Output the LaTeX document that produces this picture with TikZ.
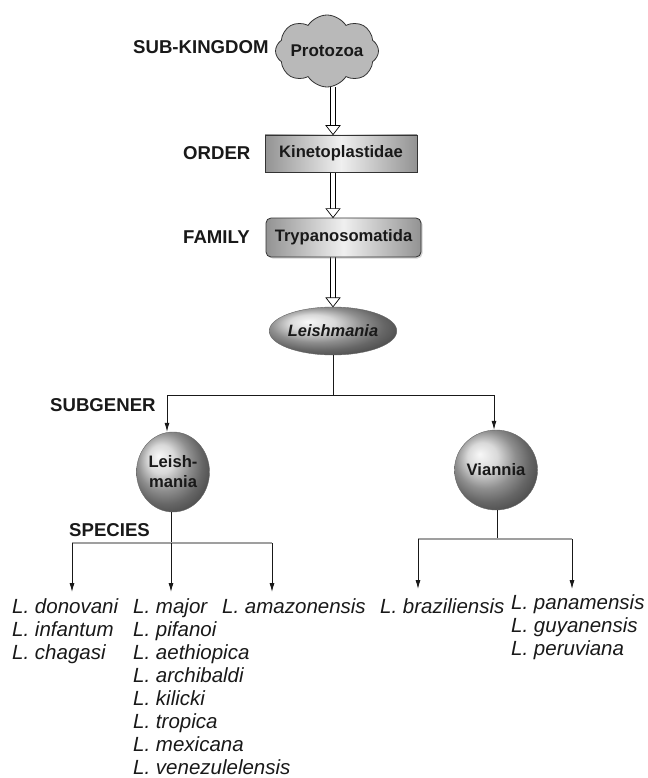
\documentclass[tikz,border=0pt]{standalone}
\usepackage{fontspec}
\setmainfont{Liberation Sans}
\usetikzlibrary{shapes.symbols,shapes.geometric,arrows.meta,calc,shadows,backgrounds}
\begin{document}
\begin{tikzpicture}[x=1pt,y=-1pt,
  lab/.style={font=\bfseries\fontsize{18.6}{22}\selectfont, inner sep=0pt, anchor=west, text=black!90},
  sp/.style={font=\itshape\fontsize{20.5}{23}\selectfont, inner sep=0pt, anchor=base west, text=black!90},
  inbox/.style={font=\bfseries\fontsize{16.6}{20}\selectfont, text=black!90},
  taxbox/.style={draw=black!80, line width=0.8pt, left color=gray!85, right color=gray!85, middle color=gray!12, minimum width=152pt, minimum height=37pt, inbox},
  taxball/.style={ellipse, shading=ball, ball color=gray!40, draw=black!60, line width=0.4pt, inbox, inner sep=0pt},
  dbl/.style={double, double distance=4.5pt, line width=0.7pt, shorten >=8pt},
  dtip/.style={draw, line width=0.7pt, fill=white},
  tree/.style={line width=0.8pt, black!90},
  arr/.style={tree, -{Latex[length=9pt,width=5pt]}},
  sline/.style={line width=1.5pt, gray!75},
]
\useasboundingbox (0,0) rectangle (647,778);

% nodes
\node[cloud, cloud puffs=8, cloud puff arc=115, aspect=1.4, draw=black!80, line width=0.8pt, fill=gray!55,
      minimum width=103pt, minimum height=72pt, inner sep=0pt, inbox,
      font=\bfseries\fontsize{17}{20}\selectfont] (cloud) at (327,51) {\makebox[0pt]{Protozoa}};
\node[taxbox] (ord) at (341,153.5) {Kinetoplastidae};
\node[taxbox, rounded corners=5pt, minimum width=155pt, minimum height=39pt,
      drop shadow={opacity=0.35, shadow xshift=1.5pt, shadow yshift=-1.5pt}] (fam) at (343.5,237.5) {Trypanosomatida};
\node[taxball, minimum width=108pt, minimum height=48pt,
      font=\bfseries\itshape\fontsize{16.4}{20}\selectfont] (gen) at (333,331) {Leishmania};
\node[taxball, minimum width=73pt, minimum height=80pt, align=center] (sl) at (173,472) {Leish-\\mania};
\node[taxball, minimum width=75pt, minimum height=80pt] (sv) at (496,470) {Viannia};

% rank labels
\node[lab] (lk) at (133,47) {SUB-KINGDOM};
\node[lab] (lo) at (183,153) {ORDER};
\node[lab] (lf) at (183,237) {FAMILY};
\node[lab] (ls) at (50,405) {SUBGENER};
\node[lab] (lsp) at (69,530) {SPECIES};

% species
\node[sp] (d1) at (12,613) {L. donovani};
\node[sp] (d2) at (12,636) {L. infantum};
\node[sp] (d3) at (12,659) {L. chagasi};
\node[sp] (m1) at (133,613) {L. major};
\node[sp] (m2) at (133,636) {L. pifanoi};
\node[sp] (m3) at (133,659) {L. aethiopica};
\node[sp] (m4) at (133,682) {L. archibaldi};
\node[sp] (m5) at (133,705) {L. kilicki};
\node[sp] (m6) at (133,728) {L. tropica};
\node[sp] (m7) at (133,751) {L. mexicana};
\node[sp] (m8) at (133,774) {L. venezulelensis};
\node[sp] (a1) at (222,613) {L. amazonensis};
\node[sp] (b1) at (380,613) {L. braziliensis};
\node[sp] (p1) at (511,609) {L. panamensis};
\node[sp] (p2) at (511,632) {L. guyanensis};
\node[sp] (p3) at (511,655) {L. peruviana};

% hollow double arrows
\begin{scope}[on background layer]
\foreach \a/\b in {cloud/ord, ord/fam, fam/gen}{
  \draw[dbl] (\a.south -| gen.north) -- (\b.north -| gen.north);
}
\end{scope}
\foreach \b in {ord, fam, gen}{
  \draw[dtip] ($(\b.north -| gen.north)+(-7,-9)$) -- ++(14,0) -- (\b.north -| gen.north) -- cycle;
}

% subgenus tree
\coordinate (j1) at (333,395);
\coordinate (jl) at (167,395);
\coordinate (jr) at (494,395);
\draw[tree] (gen.south) -- (j1);
\draw[arr] (j1) -- (jl) -- (jl |- sl.north);
\draw[arr] (j1) -- (jr) -- (jr |- sv.north);

% species tree, left
\coordinate (kl) at (171,543);
\coordinate (s1) at (72,543);
\coordinate (s3) at (272,543);
\coordinate (t1) at (72,592);
\coordinate (t2) at (171,592);
\coordinate (t3) at (272,592);
\draw[tree] (kl |- sl.south) -- (kl);
\draw[sline] (s1) -- (s3);
\draw[arr] (s1) -- (t1);
\draw[arr] (kl) -- (t2);
\draw[arr] (s3) -- (t3);

% species tree, right
\coordinate (kr) at (497,539);
\coordinate (r1) at (418,539);
\coordinate (r2) at (572,539);
\coordinate (u1) at (418,589);
\coordinate (u2) at (572,589);
\draw[tree] (kr |- sv.south) -- (kr);
\draw[sline] (r1) -- (r2);
\draw[arr] (r1) -- (u1);
\draw[arr] (r2) -- (u2);
\end{tikzpicture}
\end{document}
